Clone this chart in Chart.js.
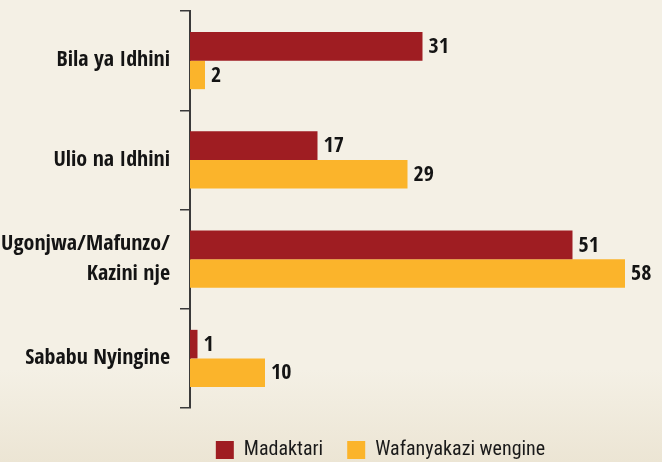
<!DOCTYPE html>
<html>
<head>
<meta charset="utf-8">
<script src="https://cdn.jsdelivr.net/npm/chart.js@4/dist/chart.umd.min.js"></script>
<style>
  html, body { margin: 0; padding: 0; }
  body { width: 662px; height: 462px; background: linear-gradient(to bottom, #F4F0E5 0%, #F4F0E5 80%, #ECE5D4 100%); overflow: hidden; }
  #wrap { position: relative; width: 662px; height: 462px; }
</style>
</head>
<body>
<div id="wrap"><canvas id="c" width="662" height="462"></canvas></div>
<script>
const categories = ['Bila ya Idhini', 'Ulio na Idhini', ['Ugonjwa/Mafunzo/', 'Kazini nje'], 'Sababu Nyingine'];
const seriesNames = ['Madaktari', 'Wafanyakazi wengine'];
const madaktari = [31, 17, 51, 1];
const wafanyakazi = [2, 29, 58, 10];
const colors = ['#9F1D22', '#FBB42B'];
const FONT = "'Open Sans Condensed', 'Roboto Condensed', sans-serif";
const FONT_REG = "'Roboto Condensed', 'Open Sans Condensed', sans-serif";

const valueLabels = {
  id: 'valueLabels',
  afterDatasetsDraw(chart) {
    const ctx = chart.ctx;
    ctx.save();
    ctx.font = 'bold 22px ' + FONT;
    ctx.fillStyle = '#141414';
    ctx.textAlign = 'left';
    ctx.textBaseline = 'middle';
    chart.data.datasets.forEach((ds, di) => {
      const meta = chart.getDatasetMeta(di);
      meta.data.forEach((bar, i) => {
        ctx.fillText(String(ds.data[i]), bar.x + 6, bar.y + 1);
      });
    });
    ctx.restore();
  }
};

const legendShift = {
  id: 'legendShift',
  afterLayout(chart) {
    const lg = chart.legend;
    if (!lg) return;
    lg.left = 99; lg.right = 662;
    lg.top += 8; lg.bottom += 8;
  }
};

new Chart(document.getElementById('c'), {
  type: 'bar',
  data: {
    labels: categories,
    datasets: [
      { label: seriesNames[0], data: madaktari, backgroundColor: colors[0] },
      { label: seriesNames[1], data: wafanyakazi, backgroundColor: colors[1] }
    ]
  },
  options: {
    indexAxis: 'y',
    responsive: false,
    animation: false,
    layout: { padding: { top: 11, right: 22, bottom: 0, left: 0 } },
    datasets: { bar: { categoryPercentage: 0.575, barPercentage: 1.0, borderWidth: 0 } },
    scales: {
      x: { display: false, min: 0, max: 60 },
      y: {
        position: 'left',
        offset: true,
        afterFit(scale) { scale.width = 190; scale.paddingTop = 0; scale.paddingBottom = 0; },
        grid: { offset: true, drawOnChartArea: false, drawTicks: true, tickLength: 10, color: '#3a3a3a', lineWidth: 1.5 },
        border: { display: true, color: '#3a3a3a', width: 2 },
        ticks: {
          padding: 10,
          color: '#141414',
          font: { family: FONT, size: 22, weight: 'bold', lineHeight: 1.36 }
        }
      }
    },
    plugins: {
      legend: {
        position: 'bottom',
        labels: {
          boxWidth: 18, boxHeight: 18, padding: 24,
          color: '#1a1a1a',
          font: { family: FONT_REG, size: 20 }
        }
      },
      tooltip: { enabled: false }
    }
  },
  plugins: [valueLabels, legendShift]
});
</script>
</body>
</html>
